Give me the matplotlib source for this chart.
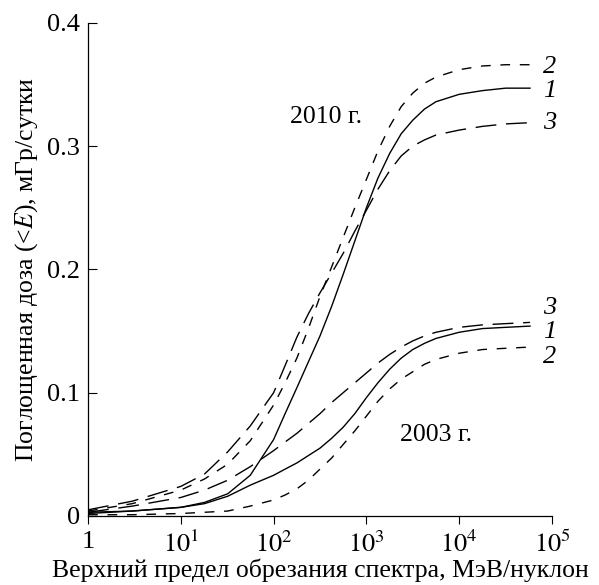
import matplotlib
matplotlib.use("Agg")
import matplotlib.pyplot as plt
from matplotlib.ticker import FixedLocator, LogLocator, NullFormatter

plt.rcParams['font.family'] = ['Liberation Serif', 'DejaVu Serif']
plt.rcParams['mathtext.fontset'] = 'stix'

# upper cut-off energy, MeV/nucleon
energy = [1, 3, 10, 18, 32, 56, 100, 133, 178, 237, 316, 422, 562, 750,
          1000, 1330, 1780, 2370, 3160, 4220, 5620, 10000, 17800, 31600, 58000]

# absorbed dose, mGy/day -- 2010
dose_2010_1 = [0.003, 0.004, 0.007, 0.011, 0.018, 0.033, 0.062, 0.083, 0.104,
               0.125, 0.146, 0.170, 0.196, 0.223, 0.250, 0.274, 0.294, 0.310,
               0.321, 0.330, 0.336, 0.342, 0.345, 0.347, 0.347]
dose_2010_2 = [0.004, 0.010, 0.021, 0.030, 0.042, 0.061, 0.090, 0.108, 0.128,
               0.152, 0.178, 0.202, 0.226, 0.250, 0.273, 0.296, 0.316, 0.332,
               0.343, 0.351, 0.356, 0.362, 0.365, 0.366, 0.366]
dose_2010_3 = [0.005, 0.012, 0.024, 0.034, 0.052, 0.073, 0.100, 0.122, 0.145,
               0.164, 0.181, 0.197, 0.213, 0.231, 0.248, 0.265, 0.280, 0.292,
               0.300, 0.305, 0.309, 0.313, 0.316, 0.318, 0.319]

# 2003
dose_2003_1 = [0.002, 0.004, 0.007, 0.010, 0.016, 0.025, 0.033, 0.038, 0.043,
               0.049, 0.055, 0.063, 0.072, 0.083, 0.096, 0.108, 0.119, 0.128,
               0.135, 0.140, 0.144, 0.149, 0.152, 0.153, 0.154]
dose_2003_2 = [0.001, 0.001, 0.002, 0.003, 0.004, 0.008, 0.013, 0.017, 0.022,
               0.029, 0.038, 0.047, 0.058, 0.069, 0.081, 0.093, 0.103, 0.111,
               0.117, 0.123, 0.127, 0.132, 0.135, 0.136, 0.137]
dose_2003_3 = [0.003, 0.008, 0.015, 0.021, 0.029, 0.040, 0.053, 0.060, 0.067,
               0.075, 0.083, 0.092, 0.100, 0.108, 0.116, 0.124, 0.131, 0.137,
               0.142, 0.146, 0.149, 0.153, 0.155, 0.156, 0.157]

x_ticks = [1, 10, 100, 1000, 10000, 100000]
x_tick_labels = ['1', '$10^1$', '$10^2$', '$10^3$', '$10^4$', '$10^5$']
y_ticks = [0, 0.1, 0.2, 0.3, 0.4]
y_tick_labels = ['0', '0.1', '0.2', '0.3', '0.4']

styles = {'1': dict(linestyle='-'),
          '2': dict(dashes=(7, 7)),
          '3': dict(dashes=(15, 7))}

fig = plt.figure(figsize=(5.99, 5.85), dpi=100)
ax = fig.add_axes([0.147, 0.118, 0.7745, 0.843])

for key, ys in (('1', dose_2010_1), ('2', dose_2010_2), ('3', dose_2010_3),
                ('1', dose_2003_1), ('2', dose_2003_2), ('3', dose_2003_3)):
    ax.plot(energy, ys, color='black', lw=1.0, **styles[key])

ax.set_xscale('log')
ax.set_xlim(1, 1e5)
ax.set_ylim(0, 0.4)

ax.xaxis.set_major_locator(FixedLocator(x_ticks))
ax.set_xticklabels(x_tick_labels)
ax.xaxis.set_minor_locator(LogLocator(base=10, subs=range(2, 10)))
ax.xaxis.set_minor_formatter(NullFormatter())
ax.set_yticks(y_ticks)
ax.set_yticklabels(y_tick_labels)

ax.tick_params(axis='x', which='major', direction='out', length=6, width=0.8,
               labelsize=19, pad=5)
ax.tick_params(axis='x', which='minor', direction='out', length=4, width=0.8)
ax.tick_params(axis='y', which='major', direction='in', length=6.5, width=0.8,
               labelsize=19, pad=6)

for side in ('top', 'right'):
    ax.spines[side].set_visible(False)
for side in ('left', 'bottom'):
    ax.spines[side].set_linewidth(0.9)

ax.set_xlabel('Верхний предел обрезания спектра, МэВ/нуклон', fontsize=18.5,
              labelpad=1)
ax.set_ylabel('Поглощенная доза (<$\\mathit{E}$), мГр/сутки', fontsize=18.5,
              labelpad=5)

# curve numbers at the right ends
for label, y in (('2', 0.364), ('1', 0.345), ('3', 0.319),
                 ('3', 0.169), ('1', 0.149), ('2', 0.129)):
    ax.text(80000, y, label, fontsize=19, style='italic', va='center',
            ha='left')

ax.text(370, 0.324, '2010 г.', fontsize=18.5, ha='center', va='center')
ax.text(5700, 0.066, '2003 г.', fontsize=18.5, ha='center', va='center')

fig.savefig('out.png', dpi=100)
